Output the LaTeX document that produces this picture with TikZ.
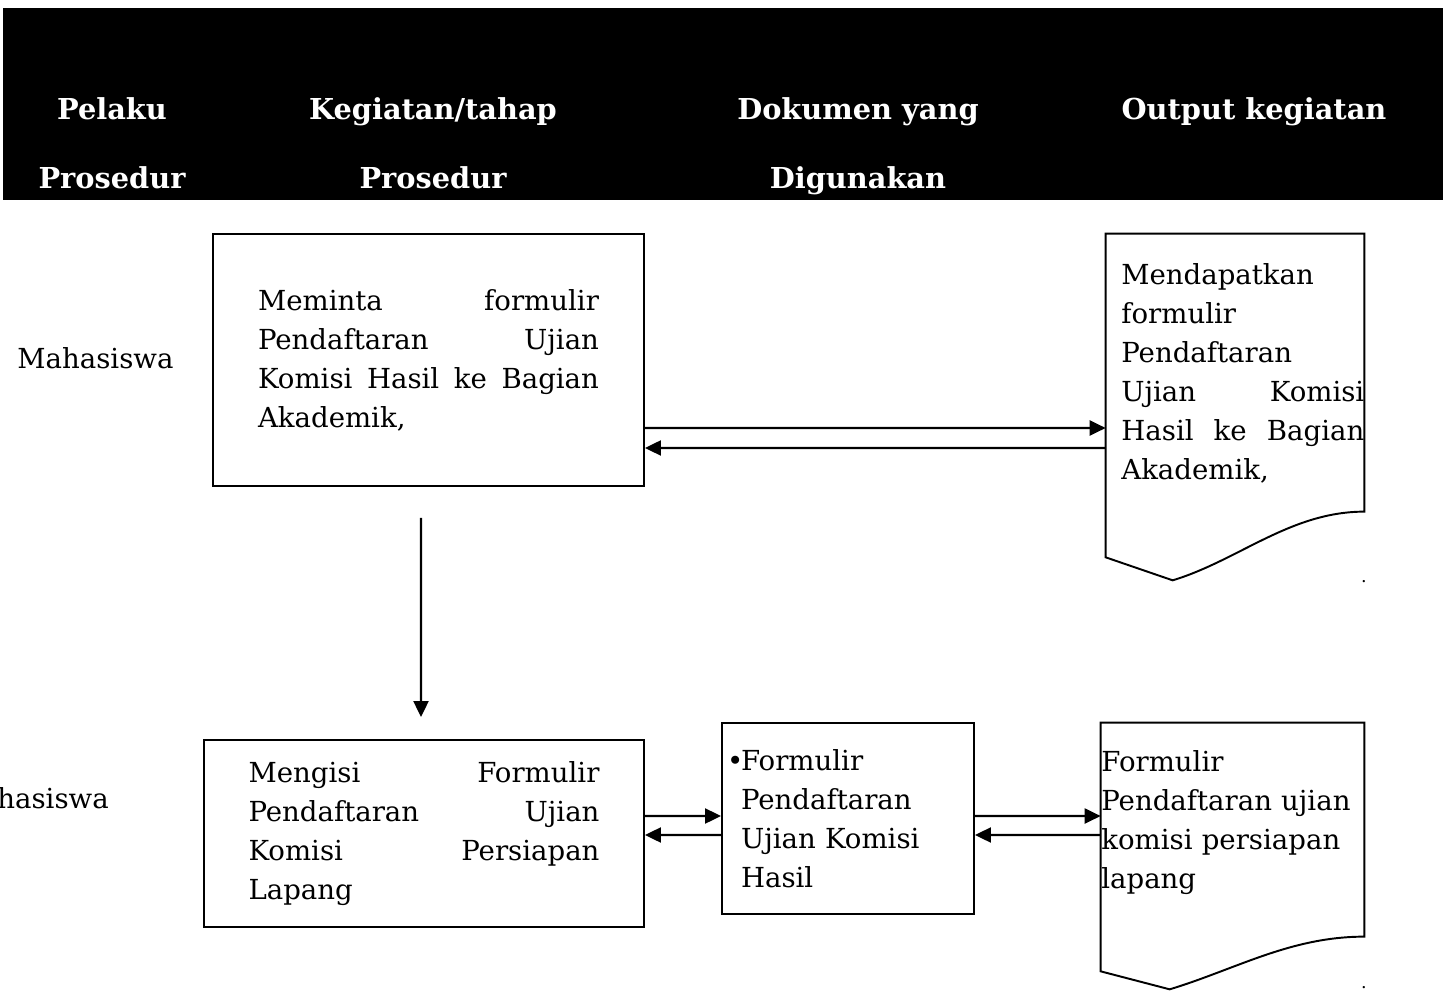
\documentclass[tikz,border=0pt]{standalone}
\usepackage{fontspec}
\setmainfont{DejaVu Serif}
\usetikzlibrary{arrows.meta,positioning}

\tikzset{
  procbox/.style={draw=black, line width=1.1pt, inner sep=0pt, align=left},
  bodytext/.style={font=\fontsize{15.7}{22.2}\selectfont},
  headtext/.style={text=white, font=\fontsize{16.4}{22}\selectfont\bfseries, anchor=base},
  outline/.style={draw=black, line width=1.1pt},
  flow/.style={line width=1.2pt, -{Triangle[length=0.32cm,width=0.3cm]}},
}

\begin{document}
\begin{tikzpicture}[x=0.02cm, y=-0.02cm]
      \useasboundingbox (0,0) rectangle (1451,994);

      % header band
      \fill[black] (3,8) rectangle (1443,200);
      \node[headtext] (pelaku) at (112,119) {Pelaku};
      \node[headtext] (prosedurA) at (112,188) {Prosedur};
      \node[headtext] (kegiatan) at (433,119) {Kegiatan/tahap};
      \node[headtext] (prosedurB) at (433,188) {Prosedur};
      \node[headtext] (dokumen) at (858,119) {Dokumen yang};
      \node[headtext] (digunakan) at (858,188) {Digunakan};
      \node[headtext] (output) at (1254,119) {Output kegiatan};

      % pelaku
      \node[bodytext, anchor=base] (mhsA) at (95.5,368) {Mahasiswa};
      \node[bodytext, anchor=base east] (mhsB) at (115,808) {Mahasiswa};

      % tahap 1
      \node[procbox, bodytext, minimum width=8.62cm, minimum height=5.04cm, text width=6.82cm] (meminta) at (428.5,360)
        {Meminta\hfill formulir\\ Pendaftaran\hfill Ujian\\ Komisi\hfill Hasil\hfill ke\hfill Bagian\\ Akademik,};

      \node[bodytext, minimum width=5.16cm, minimum height=6.92cm, inner sep=0pt] (hasilA) at (1235,407) {};
      \draw[outline] (hasilA.north west) -- (hasilA.north east) -- ([yshift=-5.56cm]hasilA.north east)
        .. controls +(-1.48cm,0) and +(1.32cm,0.4cm) .. ([xshift=1.34cm]hasilA.south west)
        -- ([yshift=0.46cm]hasilA.south west) -- cycle;
      \node[bodytext, text width=4.86cm, align=left, anchor=north west, inner sep=0pt] (hasilAtxt) at (1121,263)
        {Mendapatkan\\ formulir\\ Pendaftaran\\ Ujian\hfill Komisi\\ Hasil\hfill ke\hfill Bagian\\ Akademik,};
      \node[font=\fontsize{10}{12}\selectfont, anchor=base] (dotA) at (1364,582) {.};

      \draw[flow] ([yshift=-1.36cm]meminta.east) -- ([yshift=-0.42cm]hasilA.west);
      \draw[flow] ([yshift=-0.82cm]hasilA.west) -- ([yshift=-1.76cm]meminta.east);

      % tahap 2
      \node[procbox, bodytext, minimum width=8.8cm, minimum height=3.74cm, text width=7.02cm] (mengisi) at (424,833.5)
        {Mengisi\hfill Formulir\\ Pendaftaran\hfill Ujian\\ Komisi\hfill Persiapan\\ Lapang};
      \draw[flow] ([xshift=-0.15cm,yshift=-0.62cm]meminta.south) -- ([xshift=-0.06cm,yshift=0.44cm]mengisi.north);

      \node[procbox, bodytext, minimum width=5.04cm, minimum height=3.82cm, text width=4.84cm] (formulir) at (848,818.5)
        {\makebox[0.28cm][l]{\textbullet}Formulir\\ \hspace*{0.28cm}Pendaftaran\\ \hspace*{0.28cm}Ujian Komisi\\ \hspace*{0.28cm}Hasil};

      \node[bodytext, minimum width=5.26cm, minimum height=5.32cm, inner sep=0pt] (hasilB) at (1232.5,856) {};
      \draw[outline] (hasilB.north west) -- (hasilB.north east) -- ([yshift=-4.28cm]hasilB.north east)
        .. controls +(-1.48cm,0) and +(1.32cm,0.4cm) .. ([xshift=1.38cm]hasilB.south west)
        -- ([yshift=0.36cm]hasilB.south west) -- cycle;
      \node[bodytext, text width=5.26cm, align=left, anchor=north west, inner sep=0pt] (hasilBtxt) at (1101,750)
        {Formulir\\ Pendaftaran ujian\\ komisi persiapan\\ lapang};
      \node[font=\fontsize{10}{12}\selectfont, anchor=base] (dotB) at (1364,988) {.};

      \draw[flow] ([yshift=0.35cm]mengisi.east) -- ([yshift=0.05cm]formulir.west);
      \draw[flow] ([yshift=-0.33cm]formulir.west) -- ([yshift=-0.03cm]mengisi.east);
      \draw[flow] ([yshift=0.05cm]formulir.east) -- ([yshift=0.8cm]hasilB.west);
      \draw[flow] ([yshift=0.42cm]hasilB.west) -- ([yshift=-0.33cm]formulir.east);

\end{tikzpicture}
\end{document}
